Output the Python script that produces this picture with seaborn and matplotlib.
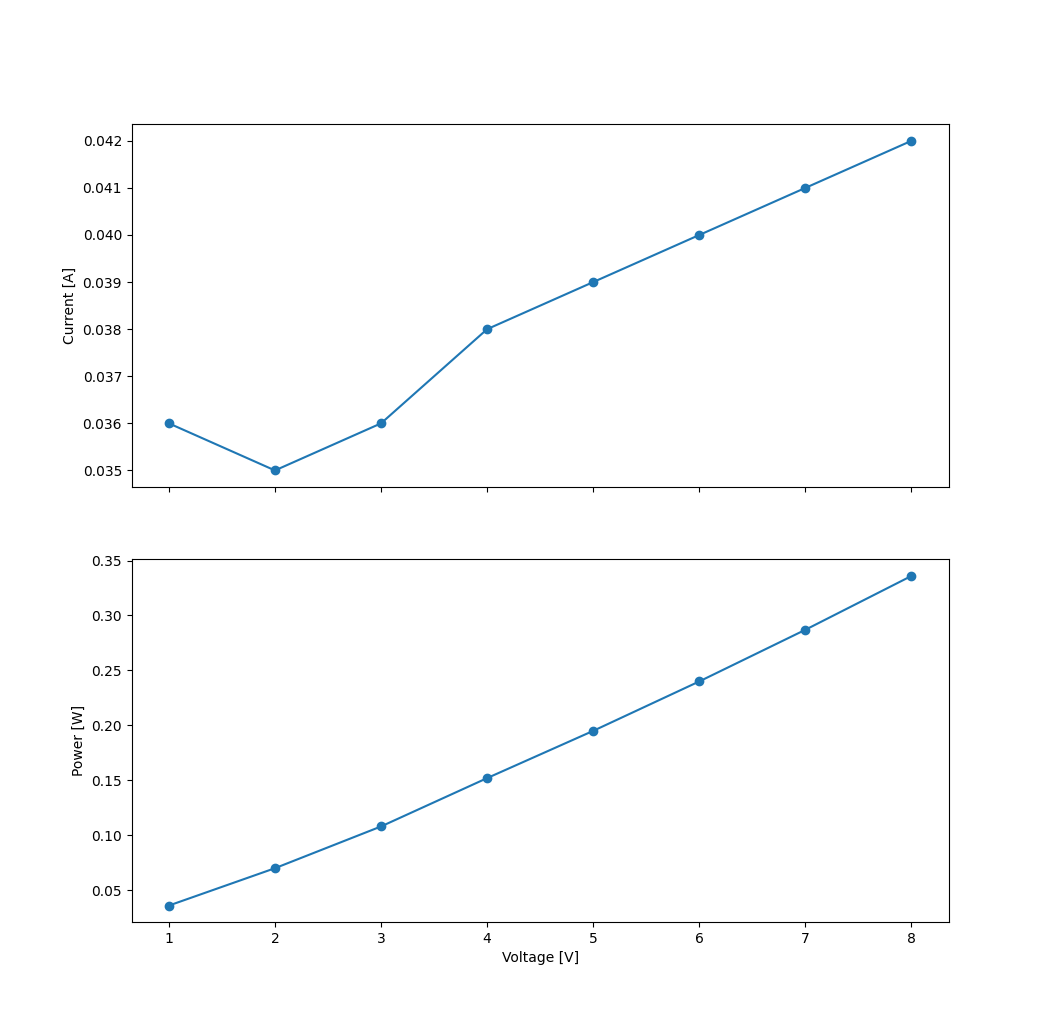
import matplotlib
matplotlib.use("Agg")
import matplotlib.pyplot as plt
import seaborn as sns

# Data
voltage = [1, 2, 3, 4, 5, 6, 7, 8]
current = [0.036, 0.035, 0.036, 0.038, 0.039, 0.040, 0.041, 0.042]
power = [0.036, 0.070, 0.108, 0.152, 0.195, 0.240, 0.287, 0.336]

# Creating the figure
fig, (ax1, ax2) = plt.subplots(2, 1, sharex=True, figsize=(10.54, 10.36), dpi=100)

line_kw = dict(marker="o", markersize=6, markeredgecolor="#1f77b4",
               markeredgewidth=1.0, color="#1f77b4", linewidth=1.5)

sns.lineplot(x=voltage, y=current, ax=ax1, **line_kw)
sns.lineplot(x=voltage, y=power, ax=ax2, **line_kw)

# Labels
ax1.set_ylabel("Current [A]")
ax2.set_ylabel("Power [W]")
ax2.set_xlabel("Voltage [V]")

fig.savefig("out.png", dpi=100)
